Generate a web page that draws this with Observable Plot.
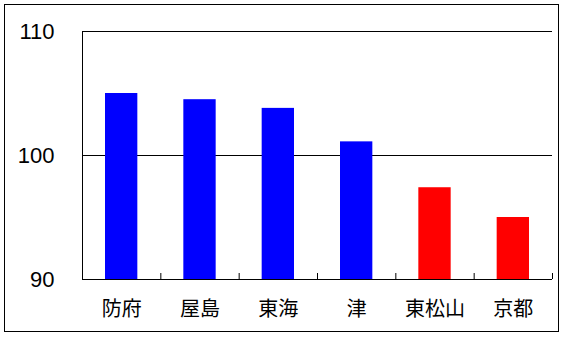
<!DOCTYPE html>
<html>
<head>
<meta charset="utf-8">
<script src="https://cdn.jsdelivr.net/npm/d3@7"></script>
<script src="https://cdn.jsdelivr.net/npm/@observablehq/plot@0.6"></script>
<style>
  html, body { margin: 0; padding: 0; background: #fff; }
  #wrap { position: relative; width: 565px; height: 339px; }
  #frame { position: absolute; left: 4px; top: 4px; width: 555px; height: 328px; box-sizing: border-box; border: 1px solid #000; pointer-events: none; }
  svg { display: block; }
</style>
</head>
<body>
<div id="wrap"><div id="frame"></div></div>
<script>
const categories = ["防府", "屋島", "東海", "津", "東松山", "京都"];
const values = [105.0, 104.5, 103.8, 101.1, 97.4, 95.0];
const groups = ["A", "A", "A", "A", "B", "B"];
const yTicks = [90, 100, 110];
const gridValues = [100, 110];

const data = categories.map((name, i) => ({name, i, value: values[i], group: groups[i]}));

const chart = Plot.plot({
  width: 565,
  height: 339,
  marginLeft: 82,
  marginRight: 13,
  marginTop: 31,
  marginBottom: 60,
  style: {background: "transparent", color: "#000"},
  x: {domain: [0, categories.length], axis: null},
  y: {domain: [90, 110], axis: null},
  color: {domain: ["A", "B"], range: ["#0000ff", "#ff0000"]},
  marks: [
    Plot.ruleY(gridValues, {stroke: "#000", strokeWidth: 1}),
    Plot.rectY(data, {x1: d => d.i, x2: d => d.i + 1, y1: 90, y2: "value", fill: "group", insetLeft: 23, insetRight: 23}),
    Plot.ruleY([90], {stroke: "#000", strokeWidth: 1}),
    Plot.ruleX([0], {stroke: "#000", strokeWidth: 1}),
    Plot.axisX({ticks: d3.range(categories.length + 1), tickSize: 6, dy: -6, tickFormat: () => "", label: null, stroke: "#000"}),
    Plot.axisX({ticks: d3.range(categories.length).map(i => i + 0.5), tickFormat: v => categories[Math.floor(v)], tickSize: 0, tickPadding: 22, label: null, fontSize: 20, fontFamily: "Noto Sans CJK JP", fill: "#000"}),
    Plot.axisY({ticks: yTicks, tickSize: 0, tickPadding: 28, label: null, fontSize: 22, fontFamily: "Liberation Sans", fill: "#000"})
  ]
});
document.getElementById("wrap").prepend(chart);
</script>
</body>
</html>
